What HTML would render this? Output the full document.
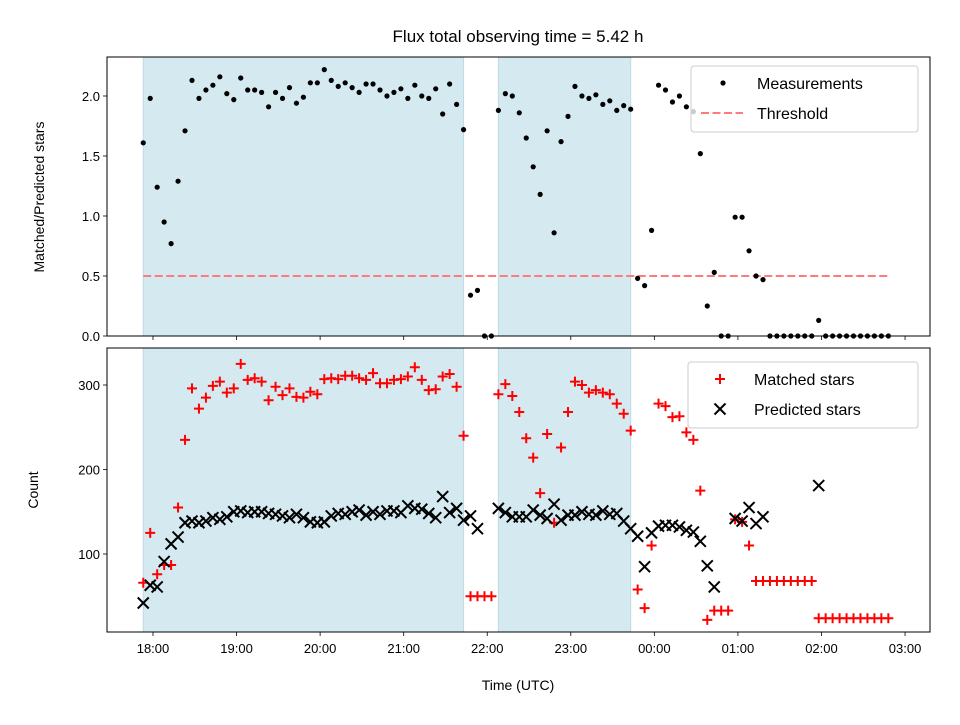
<!DOCTYPE html>
<html><head><meta charset="utf-8"><style>
body{margin:0;background:#fff}
svg text{font-family:"Liberation Sans","DejaVu Sans",sans-serif;fill:#000}
</style></head><body>
<svg id="chart" width="960" height="720" viewBox="0 0 960 720">
<rect width="960" height="720" fill="#fff"/>
<g id="topPanel"></g>
<g id="botPanel"></g>
<text x="518" y="42" font-size="17" text-anchor="middle">Flux total observing time = 5.42 h</text>
<text x="518" y="690" font-size="14" text-anchor="middle">Time (UTC)</text>
<text transform="translate(44,197) rotate(-90)" font-size="14" text-anchor="middle">Matched/Predicted stars</text>
<text transform="translate(38,490) rotate(-90)" font-size="14" text-anchor="middle">Count</text>
</svg>
<script>
const startMinutes = -7; // minutes after 18:00 of first sample
const stepMinutes = 5;
const ratio = [1.61,1.98,1.24,0.95,0.77,1.29,1.71,2.13,1.98,2.05,2.09,2.16,2.02,1.97,2.15,2.05,2.05,2.03,1.91,2.03,1.98,2.07,1.94,1.99,2.11,2.11,2.22,2.13,2.08,2.11,2.07,2.03,2.10,2.10,2.05,2.00,2.03,2.06,1.98,2.09,2.00,1.98,2.06,1.85,2.10,1.93,1.72,
0.34,0.38,0,0,1.88,2.02,2.00,1.86,1.65,1.41,1.18,1.71,0.86,1.62,1.83,2.08,2.00,1.98,2.01,1.93,1.96,1.88,1.92,1.89,0.48,0.42,0.88,2.09,2.05,1.95,2.00,1.91,1.87,1.52,0.25,0.53,0,0,0.99,0.99,0.71,0.50,0.47,0,0,0,0,0,0,0,0.13,0,0,0,0,0,0,0,0,0,0];
const matched = [66,125,76,87,87,155,235,296,272,285,299,304,291,296,325,306,308,304,282,298,288,296,286,285,292,289,307,308,307,311,311,308,306,314,302,302,306,307,310,321,306,294,295,310,313,298,240,
50,50,50,50,289,301,287,268,237,214,172,242,137,226,268,304,300,291,294,291,289,278,266,246,58,36,110,278,275,262,263,244,235,175,22,33,33,33,141,138,110,68,68,68,68,68,68,68,68,68,24,24,24,24,24,24,24,24,24,24,24];
const predicted = [42,63,61,91,112,120,137,139,137,139,143,141,144,150,151,149,150,150,148,147,145,143,147,143,138,137,138,145,148,147,150,152,146,150,147,151,151,149,157,154,153,148,143,168,149,154,140,
145,130,null,null,154,149,144,144,144,152,146,142,159,140,146,146,150,147,146,151,147,148,139,130,121,85,125,133,134,134,132,128,126,115,86,61,null,null,142,139,155,136,144,null,null,null,null,null,null,null,181,null,null,null,null,null,null,null,null,null,null];
const xTickLabels = ["18:00","19:00","20:00","21:00","22:00","23:00","00:00","01:00","02:00","03:00"];
const topTicks = [0,0.5,1.0,1.5,2.0];
const botTicks = [100,200,300];
const shadeSpans = [[-7,223],[248,343]]; // minutes after 18:00
const threshold = 0.5;

const NS="http://www.w3.org/2000/svg";
const L=107,R=930;
const T1=57,B1=336,T2=348,B2=632;
function xs(min){return 153+min/60*83.56;}
function yTop(v){return 336-v*120;}
function yBot(v){return 554-(v-100)*0.845;}
function mk(tag,attrs,parent){const e=document.createElementNS(NS,tag);for(const k in attrs)e.setAttribute(k,attrs[k]);parent.appendChild(e);return e;}
const times = ratio.map((_,i)=>startMinutes+i*stepMinutes);
const topG=document.getElementById('topPanel'), botG=document.getElementById('botPanel');

function panel(g,T,B,ticks,yf,fmt,labelsX,name){
  shadeSpans.forEach((s,i)=>{
    const r=mk('rect',{x:xs(s[0]),y:T,width:xs(s[1])-xs(s[0]),height:B-T,fill:'#d4eaf0',stroke:'#bcdbe6','stroke-width':1},g);
    
    
  });
  ticks.forEach(v=>{
    const y=yf(v);
    mk('line',{x1:L-4,x2:L,y1:y,y2:y,stroke:'#000','stroke-width':0.8},g);
    const t=mk('text',{x:L-7,y:y+5,'font-size':13,'text-anchor':'end'},g);
    t.textContent=fmt(v);
    
    
  });
  xTickLabels.forEach((lab,i)=>{
    const x=xs(i*60);
    mk('line',{x1:x,x2:x,y1:B,y2:B+4,stroke:'#000','stroke-width':0.8},g);
    if(labelsX){
      const t=mk('text',{x:x,y:B+21,'font-size':13,'text-anchor':'middle'},g);
      t.textContent=lab;
      
      
    }
  });
}
panel(topG,T1,B1,topTicks,yTop,v=>v.toFixed(1),false,'top');
panel(botG,T2,B2,botTicks,yBot,v=>String(v),true,'bottom');

const th=mk('line',{x1:xs(times[0]),x2:xs(times[times.length-1]),y1:yTop(threshold),y2:yTop(threshold),stroke:'#ff7a7a','stroke-width':2,'stroke-dasharray':'8,3.5'},topG);



ratio.forEach((v,i)=>{
  if(v==null)return;
  const c=mk('circle',{cx:xs(times[i]),cy:yTop(v),r:2.6,fill:'#000'},topG);
  
  
});
matched.forEach((v,i)=>{
  if(v==null)return;
  const x=xs(times[i]),y=yBot(v);
  const p=mk('path',{d:`M${x-5},${y}H${x+5}M${x},${y-5}V${y+5}`,stroke:'#ff0000','stroke-width':2,fill:'none'},botG);
  
  
});
predicted.forEach((v,i)=>{
  if(v==null)return;
  const x=xs(times[i]),y=yBot(v);
  const p=mk('path',{d:`M${x-5.5},${y-5.5}L${x+5.5},${y+5.5}M${x-5.5},${y+5.5}L${x+5.5},${y-5.5}`,stroke:'#000','stroke-width':2,fill:'none'},botG);
  
  
});
[[topG,T1,B1],[botG,T2,B2]].forEach(([g,T,B])=>{
  const f=mk('rect',{x:L,y:T,width:R-L,height:B-T,fill:'none',stroke:'#000','stroke-width':1},g);
  
  
});
function legend(g,x,y,w,h,items,name){
  const lg=mk('g',{},g);
  
  
  mk('rect',{x:x,y:y,width:w,height:h,rx:3,fill:'#fff','fill-opacity':0.8,stroke:'#ccc','stroke-width':1},lg);
  items.forEach((it,i)=>{
    const cy=y+17+i*30, mx=x+32;
    if(it.type==='dot') mk('circle',{cx:mx,cy:cy,r:2.6,fill:'#000'},lg);
    if(it.type==='dash') mk('line',{x1:mx-22,x2:mx+20,y1:cy,y2:cy,stroke:'#ff7a7a','stroke-width':2,'stroke-dasharray':'8,3.5'},lg);
    if(it.type==='plus') mk('path',{d:`M${mx-5},${cy}H${mx+5}M${mx},${cy-5}V${cy+5}`,stroke:'#f00','stroke-width':2},lg);
    if(it.type==='x') mk('path',{d:`M${mx-5.5},${cy-5.5}L${mx+5.5},${cy+5.5}M${mx-5.5},${cy+5.5}L${mx+5.5},${cy-5.5}`,stroke:'#000','stroke-width':2},lg);
    const t=mk('text',{x:x+66,y:cy+6,'font-size':16},lg);
    t.textContent=it.label;
    
    
  });
}
legend(topG,691,66,227,66,[{type:'dot',label:'Measurements'},{type:'dash',label:'Threshold'}],'top-legend');
legend(botG,688,362,230,66,[{type:'plus',label:'Matched stars'},{type:'x',label:'Predicted stars'}],'bottom-legend');
</script>
</body></html>
